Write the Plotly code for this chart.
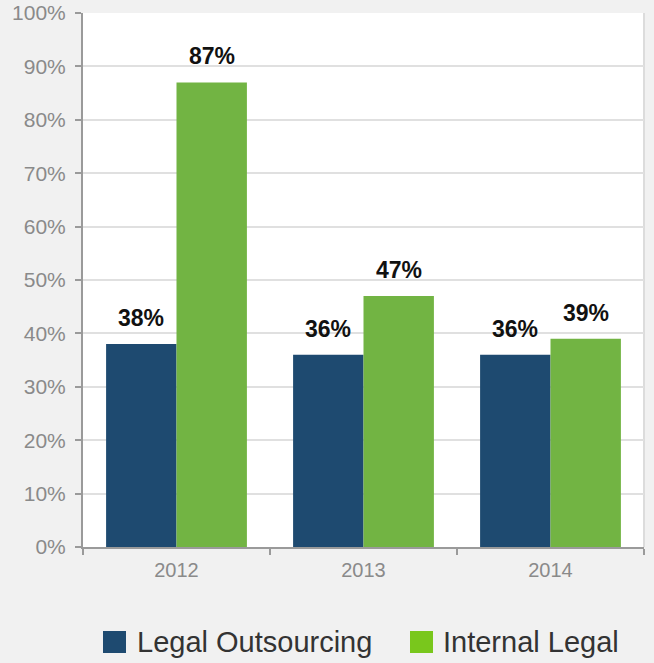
import plotly.graph_objects as go

# Survey data: share of respondents per year
years = ["2012", "2013", "2014"]
series_names = ["Legal Outsourcing", "Internal Legal"]
legal_outsourcing = [38, 36, 36]
internal_legal = [87, 47, 39]

bar_colors = ["#1e4a70", "#72b443"]
legend_colors = ["#1e4a70", "#79c71c"]

W, H = 654, 663
M_L, M_R, M_T, M_B = 83, 10, 13, 116
plot_w = W - M_L - M_R
plot_h = H - M_T - M_B

fig = go.Figure()
for name, vals, col in zip(series_names, [legal_outsourcing, internal_legal], bar_colors):
    fig.add_trace(go.Bar(x=years, y=vals, name=name, marker=dict(color=col, line=dict(width=0)),
                         showlegend=False, hoverinfo="x+y+name"))

# Value labels above each bar (x given as category index)
bargap = 0.247
group_px = plot_w / len(years) * (1 - bargap)
bar_px = group_px / 2
for i, vals in enumerate([legal_outsourcing, internal_legal]):
    shift = (i - 0.5) * bar_px
    for k, v in enumerate(vals):
        fig.add_annotation(x=k, y=v, text=f"<b>{v}%</b>", showarrow=False, xshift=shift,
                           yanchor="bottom", yshift=11,
                           font=dict(family="Liberation Sans", size=23, color="#111111"))

# Right border of the plot area
fig.add_shape(type="line", xref="paper", yref="paper", x0=1, x1=1, y0=0, y1=1,
              line=dict(color="#dcdcdc", width=2), layer="below")

# Custom legend below the chart
def px_x(p):
    return (p - M_L) / plot_w

def px_y(p):
    return (H - M_B - p) / plot_h

legend_pos = [(103, 135), (410, 441)]
for (sq_x, tx_x), name, col in zip(legend_pos, series_names, legend_colors):
    fig.add_shape(type="rect", xref="paper", yref="paper",
                  x0=px_x(sq_x), x1=px_x(sq_x + 23), y0=px_y(653), y1=px_y(631),
                  fillcolor=col, line=dict(width=0))
    fig.add_annotation(xref="paper", yref="paper", x=px_x(tx_x), y=px_y(642),
                       text=name, showarrow=False, xanchor="left", yanchor="middle",
                       font=dict(family="Liberation Sans", size=29, color="#333333"))

fig.update_layout(
    width=W, height=H,
    barmode="group", bargap=bargap, bargroupgap=0,
    paper_bgcolor="#f1f1f1", plot_bgcolor="#ffffff",
    margin=dict(l=M_L, r=M_R, t=M_T, b=M_B, autoexpand=False),
    font=dict(family="Liberation Sans"),
    xaxis=dict(type="category", tickson="boundaries", ticks="outside", ticklen=6,
               tickcolor="#9a9a9a", tickwidth=2, showline=True, linecolor="#9a9a9a", linewidth=2,
               tickfont=dict(size=20, color="#8a8a8a"), ticklabelstandoff=4,
               showgrid=False, zeroline=False, automargin=False),
    yaxis=dict(range=[0, 100], dtick=10, ticksuffix="%", ticks="outside", ticklen=6,
               tickcolor="#9a9a9a", tickwidth=2, showline=True, linecolor="#9a9a9a", linewidth=2,
               tickfont=dict(size=21, color="#8a8a8a"), ticklabelstandoff=5,
               showgrid=True, gridcolor="#e0e0e0", gridwidth=1.5, zeroline=False,
               automargin=False),
)

fig.write_html("out.html")
